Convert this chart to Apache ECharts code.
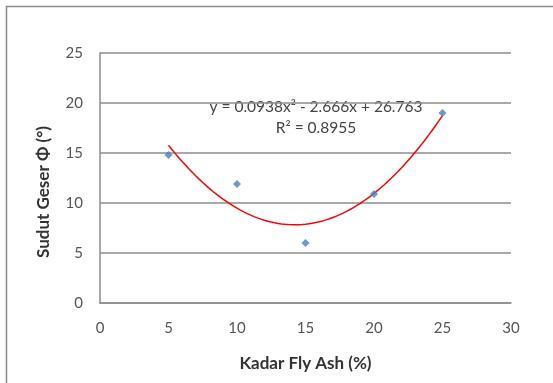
<!DOCTYPE html>
<html>
<head>
<meta charset="utf-8">
<script src="https://cdn.jsdelivr.net/npm/echarts@6/dist/echarts.min.js"></script>
<style>
html,body{margin:0;padding:0;background:#fff;}
#chart{width:553px;height:383px;}
</style>
</head>
<body>
<div id="chart"></div>
<script>
// Measured friction angle against fly ash content
const flyAsh = [5, 10, 15, 20, 25];
const frictionAngle = [14.8, 11.9, 6.0, 10.9, 19.0];
const xTicks = [0, 5, 10, 15, 20, 25, 30];
const yTicks = [0, 5, 10, 15, 20, 25];
// Polynomial trendline coefficients (a*x^2 + b*x + c) and its fit
const trendCoef = [0.0938, -2.666, 26.763];
const rSquared = 0.8955;
const xTitle = 'Kadar Fly Ash (%)';
const yTitle = 'Sudut Geser Φ (°)';

const trendPts = [];
for (let x = flyAsh[0]; x <= flyAsh[flyAsh.length - 1] + 1e-9; x += 0.25) {
  trendPts.push([x, trendCoef[0] * x * x + trendCoef[1] * x + trendCoef[2]]);
}

const font = 'Lato, "Open Sans", sans-serif';
const chart = echarts.init(document.getElementById('chart'), null, {renderer: 'canvas'});
chart.setOption({
  animation: false,
  backgroundColor: '#fff',
  grid: {left: 100, right: 42, top: 53, bottom: 80},
  xAxis: {
    type: 'value', min: xTicks[0], max: xTicks[xTicks.length - 1], interval: 5,
    name: xTitle, nameLocation: 'middle', nameGap: 52,
    nameTextStyle: {fontFamily: font, fontWeight: 'bold', fontSize: 17, color: '#333'},
    axisLine: {show: true, lineStyle: {color: '#8c8c8c', width: 1.5}},
    axisTick: {show: false},
    axisLabel: {fontFamily: font, fontSize: 15, color: '#555', margin: 18},
    splitLine: {show: false}
  },
  yAxis: {
    type: 'value', min: yTicks[0], max: yTicks[yTicks.length - 1], interval: 5,
    axisLine: {show: true, lineStyle: {color: '#8c8c8c', width: 1.5}},
    axisTick: {show: false},
    axisLabel: {fontFamily: font, fontSize: 15, color: '#555', margin: 17},
    splitLine: {show: true, lineStyle: {color: '#8c8c8c', width: 1.5}}
  },
  graphic: [
    {type: 'rect', shape: {x: 6.5, y: 6.5, width: 560, height: 390},
     style: {fill: 'none', stroke: '#8c8c8c', lineWidth: 1.5}, silent: true},
    {type: 'text', x: 44, y: 192, rotation: Math.PI / 2,
     style: {text: yTitle, font: 'bold 17px ' + font, fill: '#333',
             align: 'center', verticalAlign: 'middle'}},
    {type: 'text', x: 316, y: 107,
     style: {text: 'y = ' + trendCoef[0] + 'x² - ' + Math.abs(trendCoef[1]) + 'x + ' + trendCoef[2],
             font: '15.5px ' + font, fill: '#444', align: 'center', verticalAlign: 'middle'}},
    {type: 'text', x: 316, y: 128,
     style: {text: 'R² = ' + rSquared, font: '15.5px ' + font, fill: '#444',
             align: 'center', verticalAlign: 'middle'}}
  ],
  series: [
    {
      type: 'line', data: trendPts, showSymbol: false, smooth: false,
      lineStyle: {color: '#ff0000', width: 1.5}, z: 2
    },
    {
      type: 'scatter', data: flyAsh.map((x, i) => [x, frictionAngle[i]]),
      symbol: 'diamond', symbolSize: 8,
      itemStyle: {color: '#4a7ebb'}, z: 3
    }
  ]
});
</script>
</body>
</html>
